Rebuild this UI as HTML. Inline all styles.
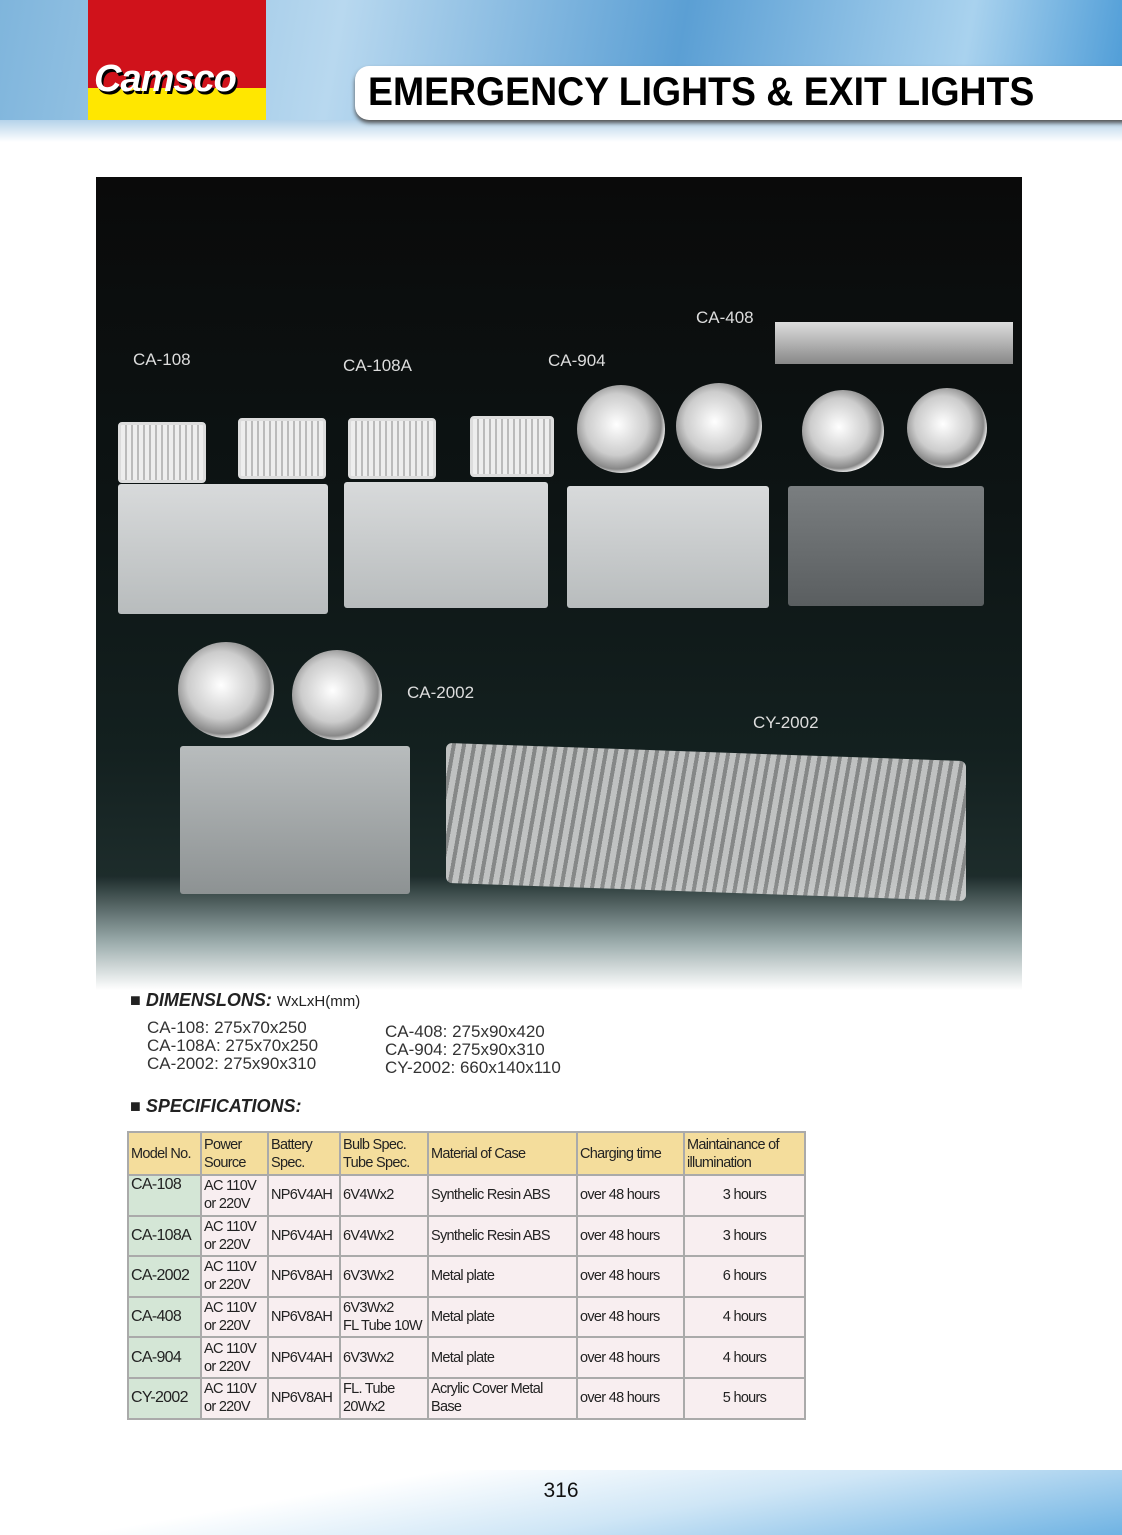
<!DOCTYPE html>
<html><head><meta charset="utf-8"><style>
body{margin:0;width:1122px;height:1535px;position:relative;background:#fff;font-family:"Liberation Sans",sans-serif;overflow:hidden}
.abs{position:absolute}
.lbl{position:absolute;color:#ddd;font-size:17px}
.box{position:absolute;background:linear-gradient(#d8dadb,#b8bcbd);border-radius:3px}
.lamp{position:absolute;border-radius:50%;background:radial-gradient(circle at 45% 45%,#fff,#ccc 45%,#888 65%,#eee 72%,#999 100%)}
.rl{position:absolute;background:repeating-linear-gradient(90deg,#eee 0 4px,#bbb 4px 6px);border:3px solid #ddd;border-radius:4px}
table{position:absolute;left:127px;top:1131px;width:677px;table-layout:fixed;border-collapse:collapse;font-family:"Liberation Sans Narrow","Liberation Sans",sans-serif;font-size:14.5px;letter-spacing:-0.7px;color:#222;white-space:nowrap}
td{border:2px solid #aaa;padding:0 2px;line-height:18px;background:#f8eef0;height:38.6px;overflow:hidden}
tr:first-child td{background:#f4dd9c;height:41px}
td:first-child{background:#d4e6d6;font-size:16px}
</style></head><body>
<div class="abs" style="left:0;top:0;width:1122px;height:142px;background:linear-gradient(100deg,#7fb5dc,#b8d8ef 30%,#5b9fd4 60%,#a9d2ee 85%,#4a9ad6)"></div>
<div class="abs" style="left:0;top:120px;width:1122px;height:22px;background:linear-gradient(#b5d3ea,#fff)"></div>
<div class="abs" style="left:88px;top:0;width:178px;height:88px;background:#d0121b"></div>
<div class="abs" style="left:88px;top:88px;width:178px;height:32px;background:#ffe700"></div>
<div class="abs" style="left:94px;top:58px;font-size:38px;font-weight:bold;font-style:italic;color:#fff;letter-spacing:-1px;text-shadow:2px 3px 0 #000">Camsco</div>
<div class="abs" style="left:355px;top:66px;width:780px;height:54px;background:#fff;border-radius:14px 0 0 14px;box-shadow:0 3px 4px #555"></div>
<div class="abs" style="left:368px;top:70px;font-size:40px;font-weight:bold;color:#000;transform:scaleX(.935);transform-origin:left">EMERGENCY LIGHTS &amp; EXIT LIGHTS</div>

<div class="abs" style="left:96px;top:177px;width:926px;height:813px;background:linear-gradient(#0a0a0a 0%,#0d1414 40%,#13201f 70%,#1d2c2b 86%,#9aa 94%,#fff 100%)"></div>
<div class="lbl" style="left:133px;top:350px">CA-108</div>
<div class="lbl" style="left:343px;top:356px">CA-108A</div>
<div class="lbl" style="left:548px;top:351px">CA-904</div>
<div class="lbl" style="left:696px;top:308px">CA-408</div>
<div class="lbl" style="left:407px;top:683px">CA-2002</div>
<div class="lbl" style="left:753px;top:713px">CY-2002</div>
<div class="rl" style="left:118px;top:422px;width:82px;height:55px"></div>
<div class="rl" style="left:238px;top:418px;width:82px;height:55px"></div>
<div class="box" style="left:118px;top:484px;width:210px;height:130px"></div>
<div class="rl" style="left:348px;top:418px;width:82px;height:55px"></div>
<div class="rl" style="left:470px;top:416px;width:78px;height:55px"></div>
<div class="box" style="left:344px;top:482px;width:204px;height:126px"></div>
<div class="lamp" style="left:577px;top:385px;width:88px;height:88px"></div>
<div class="lamp" style="left:676px;top:383px;width:86px;height:86px"></div>
<div class="box" style="left:567px;top:486px;width:202px;height:122px"></div>
<div class="abs" style="left:775px;top:322px;width:238px;height:42px;background:linear-gradient(#ddd,#888)"></div>
<div class="lamp" style="left:802px;top:390px;width:82px;height:82px"></div>
<div class="lamp" style="left:907px;top:388px;width:80px;height:80px"></div>
<div class="box" style="left:788px;top:486px;width:196px;height:120px;background:linear-gradient(#7a7e80,#5a5e60)"></div>
<div class="lamp" style="left:178px;top:642px;width:96px;height:96px"></div>
<div class="lamp" style="left:292px;top:650px;width:90px;height:90px"></div>
<div class="box" style="left:180px;top:746px;width:230px;height:148px;background:linear-gradient(#b8bcbd,#8d9293)"></div>
<div class="abs" style="left:446px;top:752px;width:520px;height:140px;background:repeating-linear-gradient(100deg,#ddd 0 6px,#999 6px 10px);transform:skewY(2deg);border-radius:6px;opacity:.85"></div>

<div class="abs" style="left:130px;top:990px;font-size:18px;font-weight:bold;font-style:italic;color:#222">■ DIMENSLONS: <span style="font-size:15px;font-weight:normal;font-style:normal">WxLxH(mm)</span></div>
<div class="abs" style="left:147px;top:1019px;font-size:17px;line-height:18px;color:#333">CA-108: 275x70x250<br>CA-108A: 275x70x250<br>CA-2002: 275x90x310</div>
<div class="abs" style="left:385px;top:1023px;font-size:17px;line-height:18px;color:#333">CA-408: 275x90x420<br>CA-904: 275x90x310<br>CY-2002: 660x140x110</div>
<div class="abs" style="left:130px;top:1096px;font-size:18px;font-weight:bold;font-style:italic;color:#222">■ SPECIFICATIONS:</div>
<table>
<colgroup><col style="width:73px"><col style="width:67px"><col style="width:72px"><col style="width:88px"><col style="width:149px"><col style="width:107px"><col style="width:121px"></colgroup>
<tr><td style="font-size:14.5px">Model No.</td><td>Power<br>Source</td><td>Battery<br>Spec.</td><td>Bulb Spec.<br>Tube Spec.</td><td>Material of Case</td><td>Charging time</td><td>Maintainance of<br>illumination</td></tr>
<tr><td style="vertical-align:top">CA-108</td><td>AC 110V<br>or 220V</td><td>NP6V4AH</td><td>6V4Wx2</td><td>Synthelic Resin ABS</td><td>over 48 hours</td><td style="text-align:center">3 hours</td></tr>
<tr><td>CA-108A</td><td>AC 110V<br>or 220V</td><td>NP6V4AH</td><td>6V4Wx2</td><td>Synthelic Resin ABS</td><td>over 48 hours</td><td style="text-align:center">3 hours</td></tr>
<tr><td>CA-2002</td><td>AC 110V<br>or 220V</td><td>NP6V8AH</td><td>6V3Wx2</td><td>Metal plate</td><td>over 48 hours</td><td style="text-align:center">6 hours</td></tr>
<tr><td>CA-408</td><td>AC 110V<br>or 220V</td><td>NP6V8AH</td><td>6V3Wx2<br>FL Tube 10W</td><td>Metal plate</td><td>over 48 hours</td><td style="text-align:center">4 hours</td></tr>
<tr><td>CA-904</td><td>AC 110V<br>or 220V</td><td>NP6V4AH</td><td>6V3Wx2</td><td>Metal plate</td><td>over 48 hours</td><td style="text-align:center">4 hours</td></tr>
<tr><td>CY-2002</td><td>AC 110V<br>or 220V</td><td>NP6V8AH</td><td>FL. Tube<br>20Wx2</td><td>Acrylic Cover Metal<br>Base</td><td>over 48 hours</td><td style="text-align:center">5 hours</td></tr>
</table>
<div class="abs" style="left:0;top:1470px;width:1122px;height:65px;background:linear-gradient(170deg,#fff 30%,#cfe6f6 60%,#6fb3e3 100%)"></div>
<div class="abs" style="left:0;top:1479px;width:1122px;text-align:center;font-size:21px;color:#111">316</div>
</body></html>
